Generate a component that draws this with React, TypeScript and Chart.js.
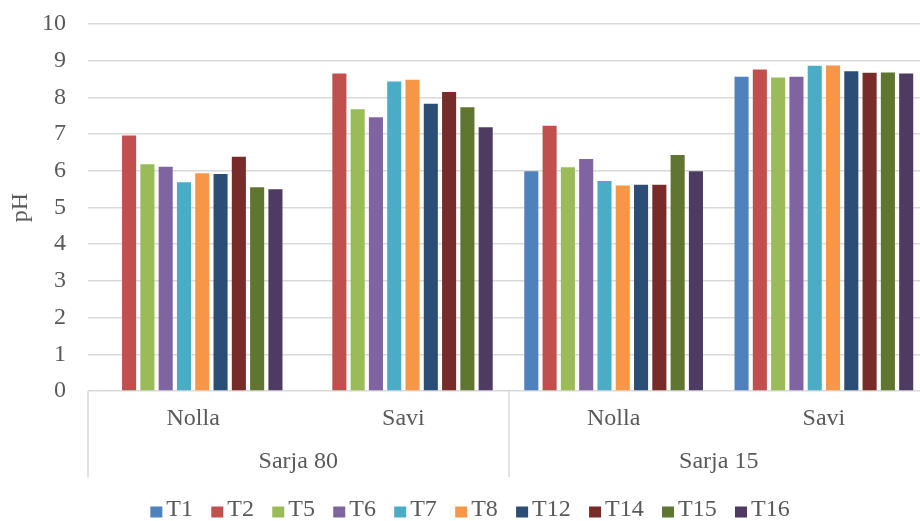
import React, { useEffect, useRef } from "react";
import { Chart, registerables } from "chart.js";

Chart.register(...registerables);

// Inner categories (treatment) and outer groups (series)
const categories = ["Nolla", "Savi", "Nolla", "Savi"];
const groups = ["Sarja 80", "Sarja 15"];

// pH per sample, one value per inner category
const T1 = [null, null, 5.99, 8.56];
const T2 = [6.96, 8.65, 7.23, 8.76];
const T5 = [6.18, 7.68, 6.1, 8.54];
const T6 = [6.11, 7.46, 6.32, 8.56];
const T7 = [5.69, 8.43, 5.72, 8.86];
const T8 = [5.93, 8.48, 5.6, 8.87];
const T12 = [5.91, 7.83, 5.62, 8.71];
const T14 = [6.38, 8.15, 5.62, 8.67];
const T15 = [5.55, 7.73, 6.43, 8.68];
const T16 = [5.5, 7.19, 5.99, 8.65];

const seriesNames = ["T1", "T2", "T5", "T6", "T7", "T8", "T12", "T14", "T15", "T16"];
const seriesValues = [T1, T2, T5, T6, T7, T8, T12, T14, T15, T16];
const seriesColors = [
  "#4F81BD",
  "#C0504D",
  "#9BBB59",
  "#8064A2",
  "#4BACC6",
  "#F79646",
  "#2C4D75",
  "#772C2A",
  "#5F7530",
  "#4D3B62",
];

const yMin = 0;
const yMax = 10;
const yStep = 1;

const TEXT = "#595959";
const GRID = "#d9d9d9";
const FONT = "'Liberation Serif', 'Times New Roman', serif";

// The drawing is a little wider than the visible frame, so the last group runs to the edge
const VIEW_W = 920;
const VIEW_H = 521;
const CANVAS_W = 929;

// Vertical separators between the outer groups, below the plot
const groupDividers = {
  id: "groupDividers",
  afterDraw(chart: Chart) {
    const x = chart.scales.x;
    const x2 = chart.scales.x2;
    const ctx = chart.ctx;
    const perGroup = categories.length / groups.length;
    const half = (x.getPixelForValue(1) - x.getPixelForValue(0)) / 2;
    const top = chart.chartArea.bottom;
    const bottom = x2.bottom - 9;
    ctx.save();
    ctx.strokeStyle = GRID;
    ctx.lineWidth = 1.5;
    for (let g = 0; g <= groups.length; g++) {
      const idx = g * perGroup;
      const px = Math.round(
        x.getPixelForValue(Math.min(idx, categories.length - 1)) + (idx >= categories.length ? half : -half)
      );
      ctx.beginPath();
      ctx.moveTo(px, top);
      ctx.lineTo(px, bottom);
      ctx.stroke();
    }
    ctx.restore();
  },
};

// Compact single-row legend under the axis labels
const bottomLegend = {
  id: "bottomLegend",
  afterDraw(chart: Chart) {
    const ctx = chart.ctx;
    const boxW = 12;
    const boxH = 11;
    const gap = 4;
    const pad = 18.3;
    const cy = chart.height - 11;
    const center = VIEW_W / 2 + 10;
    ctx.save();
    ctx.font = `24px ${FONT}`;
    ctx.textBaseline = "middle";
    ctx.textAlign = "left";
    const items = chart.data.datasets.map((ds: any) => ({
      text: String(ds.label),
      color: ds.backgroundColor as string,
      w: ctx.measureText(String(ds.label)).width,
    }));
    const total = items.reduce((s, it) => s + boxW + gap + it.w, 0) + pad * (items.length - 1);
    let cx = center - total / 2;
    for (const it of items) {
      ctx.fillStyle = it.color;
      ctx.fillRect(cx, cy - 3.5, boxW, boxH);
      ctx.fillStyle = TEXT;
      ctx.fillText(it.text, cx + boxW + gap, cy);
      cx += boxW + gap + it.w + pad;
    }
    ctx.restore();
  },
};

export default function App() {
  const canvasRef = useRef<HTMLCanvasElement | null>(null);

  useEffect(() => {
    if (!canvasRef.current) return;
    const chart = new Chart(canvasRef.current, {
      type: "bar",
      data: {
        labels: categories,
        datasets: seriesNames.map((name, i) => ({
          label: name,
          data: seriesValues[i],
          backgroundColor: seriesColors[i],
          borderWidth: 0,
          categoryPercentage: 0.87,
          barPercentage: 0.77,
        })),
      },
      options: {
        responsive: false,
        animation: false,
        devicePixelRatio: 1,
        layout: { padding: { top: 24, right: 0, left: 0, bottom: 35 } },
        plugins: {
          legend: { display: false },
          tooltip: { enabled: false },
        },
        scales: {
          y: {
            min: yMin,
            max: yMax,
            ticks: {
              stepSize: yStep,
              color: TEXT,
              padding: 0,
              font: { family: FONT, size: 24 },
            },
            grid: {
              color: GRID,
              lineWidth: 1.5,
              drawTicks: true,
              tickLength: 22,
              tickColor: "rgba(0,0,0,0)",
            },
            border: { display: false },
            title: {
              display: true,
              text: "pH",
              color: TEXT,
              font: { family: FONT, size: 24 },
              padding: { top: 6, bottom: 0 },
            },
            afterFit(scale: any) {
              scale.width = 88;
            },
          },
          x: {
            position: "bottom",
            weight: 1,
            grid: { display: false, drawTicks: false },
            border: { display: false },
            ticks: {
              color: TEXT,
              padding: 13.6,
              font: { family: FONT, size: 24 },
              maxRotation: 0,
            },
            afterFit(scale: any) {
              scale.height = 46;
            },
          },
          x2: {
            type: "category",
            position: "bottom",
            weight: 2,
            labels: groups,
            offset: true,
            grid: { display: false, drawTicks: false },
            border: { display: false },
            ticks: {
              color: TEXT,
              padding: 10.6,
              font: { family: FONT, size: 24 },
              maxRotation: 0,
            },
            afterFit(scale: any) {
              scale.height = 49;
            },
          },
        },
      },
      plugins: [groupDividers, bottomLegend],
    });
    return () => chart.destroy();
  }, []);

  return (
    <div
      style={{
        position: "absolute",
        left: 0,
        top: 0,
        width: VIEW_W,
        height: VIEW_H,
        overflow: "hidden",
        background: "#fff",
      }}
    >
      <canvas ref={canvasRef} width={CANVAS_W} height={VIEW_H} style={{ display: "block" }} />
    </div>
  );
}
